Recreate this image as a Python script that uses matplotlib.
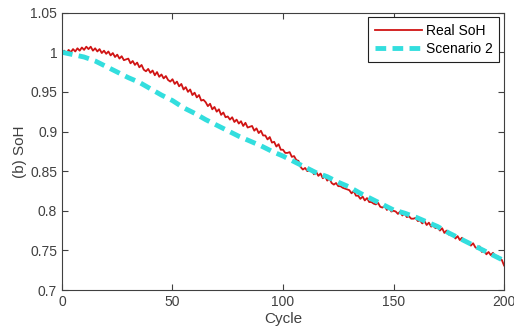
import numpy as np
import matplotlib
matplotlib.use("Agg")
import matplotlib.pyplot as plt

plt.rcParams["font.family"] = ["Liberation Sans", "DejaVu Sans"]

# ----- Daten -----
real_cycle = np.arange(0, 201)
real_soh = [
    1.000, 1.002, 0.998, 1.003, 1.000, 1.004, 1.001, 1.005, 1.002, 1.006,
    1.003, 1.007, 1.004, 1.007, 1.002, 1.005, 1.001, 1.004, 0.999, 1.002,
    0.998, 1.001, 0.996, 0.999, 0.994, 0.997, 0.992, 0.995, 0.990, 0.991,
    0.992, 0.986, 0.989, 0.984, 0.987, 0.981, 0.984, 0.978, 0.976, 0.979,
    0.974, 0.977, 0.971, 0.975, 0.969, 0.972, 0.967, 0.970, 0.965, 0.963,
    0.966, 0.960, 0.963, 0.957, 0.960, 0.953, 0.956, 0.950, 0.953, 0.946,
    0.949, 0.943, 0.946, 0.939, 0.940, 0.937, 0.932, 0.935, 0.928, 0.931,
    0.925, 0.928, 0.921, 0.924, 0.918, 0.919, 0.915, 0.918, 0.912, 0.915,
    0.910, 0.913, 0.907, 0.911, 0.905, 0.906, 0.907, 0.901, 0.904, 0.898,
    0.901, 0.895, 0.895, 0.890, 0.893, 0.886, 0.887, 0.881, 0.884, 0.877,
    0.877, 0.873, 0.873, 0.874, 0.868, 0.869, 0.864, 0.863, 0.855, 0.852,
    0.854, 0.850, 0.851, 0.852, 0.846, 0.849, 0.844, 0.847, 0.841, 0.844,
    0.838, 0.841, 0.835, 0.833, 0.835, 0.831, 0.831, 0.829, 0.828, 0.827,
    0.826, 0.822, 0.825, 0.819, 0.819, 0.815, 0.818, 0.813, 0.816, 0.811,
    0.811, 0.809, 0.808, 0.810, 0.805, 0.804, 0.806, 0.801, 0.804, 0.799,
    0.800, 0.799, 0.796, 0.799, 0.794, 0.797, 0.792, 0.793, 0.790, 0.790,
    0.791, 0.787, 0.788, 0.784, 0.787, 0.782, 0.785, 0.780, 0.781, 0.778,
    0.779, 0.775, 0.778, 0.772, 0.775, 0.770, 0.770, 0.769, 0.765, 0.768,
    0.763, 0.766, 0.761, 0.761, 0.760, 0.756, 0.759, 0.754, 0.752, 0.755,
    0.748, 0.751, 0.745, 0.748, 0.744, 0.747, 0.743, 0.743, 0.739, 0.738,
    0.731,
]

scen_cycle = np.arange(0, 201, 5)
scen_soh = [
    1.000, 0.997, 0.994, 0.989, 0.982, 0.975, 0.968, 0.962, 0.954, 0.946,
    0.939, 0.930, 0.923, 0.915, 0.908, 0.901, 0.894, 0.888, 0.882, 0.875,
    0.869, 0.862, 0.855, 0.848, 0.843, 0.836, 0.830, 0.822, 0.815, 0.808,
    0.801, 0.797, 0.792, 0.786, 0.780, 0.772, 0.765, 0.758, 0.751, 0.744,
    0.737,
]

x_ticks = [0, 50, 100, 150, 200]
y_ticks = [0.7, 0.75, 0.8, 0.85, 0.9, 0.95, 1.0, 1.05]
y_labels = ["0.7", "0.75", "0.8", "0.85", "0.9", "0.95", "1", "1.05"]

# ----- Plot -----
fig = plt.figure(figsize=(5.14, 3.35), dpi=100)
ax = fig.add_axes([0.1206, 0.1343, 0.86, 0.828])

ax.plot(real_cycle, real_soh, color="#d01414", linewidth=1.3, label="Real SoH")
ax.plot(scen_cycle, scen_soh, color="#33dede", linewidth=3.5,
        linestyle=(0, (2.2, 1.3)), label="Scenario 2")

ax.set_xlim(0, 200)
ax.set_ylim(0.7, 1.05)
ax.set_xticks(x_ticks)
ax.set_yticks(y_ticks)
ax.set_yticklabels(y_labels)
ax.tick_params(direction="in", top=True, right=True, length=4,
               labelsize=10, colors="#404040", labelcolor="#404040")
for s in ax.spines.values():
    s.set_color("#404040")
    s.set_linewidth(0.8)

ax.set_xlabel("Cycle", fontsize=11, color="#404040", labelpad=2)
ax.set_ylabel("(b) SoH", fontsize=11, color="#404040", labelpad=2)

leg = ax.legend(loc="upper right", fontsize=10, handlelength=3.4,
                fancybox=False, edgecolor="#202020", framealpha=1,
                borderaxespad=0.35, borderpad=0.45, labelspacing=0.3,
                handletextpad=0.3)
leg.get_frame().set_linewidth(0.8)

fig.savefig("out.png", dpi=100)
